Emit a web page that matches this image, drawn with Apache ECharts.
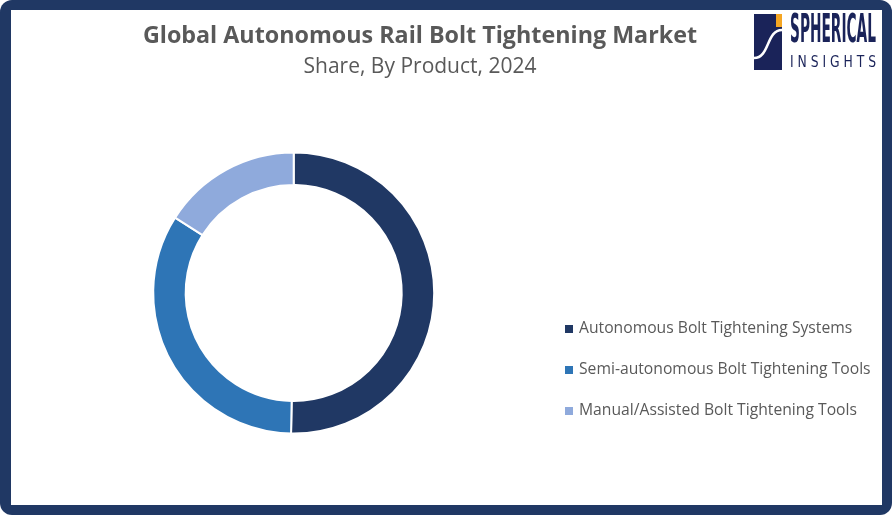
<!DOCTYPE html>
<html>
<head>
<meta charset="utf-8">
<script src="https://cdn.jsdelivr.net/npm/echarts@6/dist/echarts.min.js"></script>
<style>
html,body{margin:0;padding:0;background:#fff;}
#chart{width:892px;height:515px;}
</style>
</head>
<body>
<div id="chart"></div>
<script>
const categories = [
  'Autonomous Bolt Tightening Systems',
  'Semi-autonomous Bolt Tightening Tools',
  'Manual/Assisted Bolt Tightening Tools'
];
const shares = [50.3, 33.7, 16.0];
const colors = ['#203864', '#2E75B6', '#8FAADC'];
const titleText = 'Global Autonomous Rail Bolt Tightening Market';
const subtitleText = 'Share, By Product, 2024';

function fitScale(text, font, target) {
  const c = document.createElement('canvas').getContext('2d');
  c.font = font;
  return target / c.measureText(text).width;
}
const logoFont = 'bold 39px "DejaVu Sans Condensed", "Liberation Sans Narrow", sans-serif';
const logoScale = fitScale('SPHERICAL', logoFont, 86);
const insFont = '15px "DejaVu Sans Condensed", sans-serif';
const insScale = fitScale('I N S I G H T S', insFont, 86);

const chart = echarts.init(document.getElementById('chart'), null, {renderer: 'canvas'});
chart.setOption({
  animation: false,
  backgroundColor: '#ffffff',
  title: {
    text: titleText,
    subtext: subtitleText,
    left: 415,
    textAlign: 'center',
    top: 20,
    itemGap: 9,
    textStyle: {fontFamily: 'Open Sans', fontWeight: 'bold', fontSize: 23.3, color: '#595959'},
    subtextStyle: {fontFamily: 'Open Sans', fontSize: 21, color: '#595959'}
  },
  legend: {
    orient: 'vertical',
    left: 558,
    top: 314,
    itemWidth: 10,
    itemHeight: 10,
    itemGap: 21,
    icon: 'rect',
    data: categories,
    textStyle: {fontFamily: 'Open Sans', fontSize: 15.7, lineHeight: 20, color: '#595959'}
  },
  graphic: [
    {type: 'rect', z: -10, silent: true, shape: {x: 0, y: 0, width: 892, height: 515, r: 12}, style: {fill: '#203864'}},
    {type: 'rect', z: -9, silent: true, shape: {x: 11, y: 10, width: 871, height: 495}, style: {fill: '#ffffff'}},
    {type: 'rect', z: 10, shape: {x: 754, y: 14, width: 28, height: 56}, style: {fill: '#1a2359'}},
    {type: 'rect', z: 11, shape: {x: 776, y: 14, width: 6, height: 13}, style: {fill: '#f5a623'}},
    {type: 'bezierCurve', z: 11, shape: {x1: 754, y1: 58, x2: 782, y2: 30, cpx1: 770, cpy1: 58, cpx2: 766, cpy2: 30}, style: {stroke: '#ffffff', lineWidth: 2.5, fill: null}},
    {type: 'text', z: 11, x: 790, y: 32, scaleX: logoScale, scaleY: 1,
      style: {x: 0, y: 0, text: 'SPHERICAL', font: logoFont, fill: '#1a2359', verticalAlign: 'middle', align: 'left'}},
    {type: 'text', z: 11, x: 790, y: 63, scaleX: insScale, scaleY: 1,
      style: {x: 0, y: 0, text: 'I N S I G H T S', font: insFont, fill: '#1a2359', verticalAlign: 'middle', align: 'left'}}
  ],
  series: [{
    type: 'pie',
    center: [293.7, 293],
    radius: [108, 140.5],
    startAngle: 90,
    clockwise: true,
    label: {show: false},
    labelLine: {show: false},
    itemStyle: {borderColor: '#ffffff', borderWidth: 2},
    data: categories.map((c, i) => ({name: c, value: shares[i], itemStyle: {color: colors[i]}}))
  }]
});
</script>
</body>
</html>
